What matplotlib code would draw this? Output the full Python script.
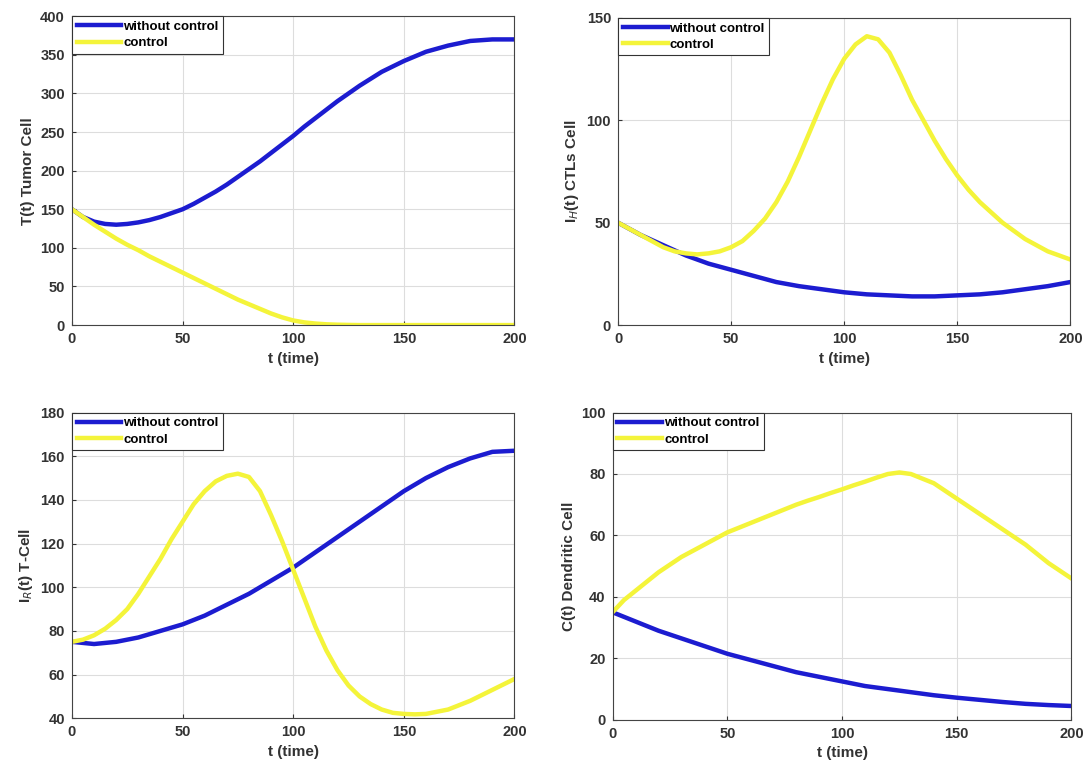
import matplotlib
matplotlib.use("Agg")
import matplotlib.pyplot as plt

plt.rcParams["font.family"] = ["Liberation Sans", "DejaVu Sans"]

t10 = list(range(0, 201, 10))
t5 = list(range(0, 201, 5))

# T(t) tumor cells (read every 5 time units)
tumor_no = [150, 140, 134, 131, 130, 131, 133, 136, 140, 145, 150, 157, 165, 173, 182, 192, 202, 212,
            223, 234, 245, 257, 268, 279, 290, 300, 310, 319, 328, 335, 342, 348, 354, 358, 362, 365,
            368, 369, 370, 370, 370]
tumor_ctl = [150, 140, 130, 121, 112, 104, 97, 89, 82, 75, 68, 61, 54, 47, 40, 33, 27, 21, 15, 10, 6,
             3.5, 2, 1, 0.5, 0.2, 0, 0, 0, 0, 0, 0, 0, 0, 0, 0, 0, 0, 0, 0, 0]

# I_H(t) CTLs
ctl_no = [50, 44, 39, 34, 30, 27, 24, 21, 19, 17.5, 16, 15, 14.5, 14, 14, 14.5, 15, 16, 17.5, 19, 21]
ctl_ctl = [50, 47, 44, 41, 38, 36, 35, 34.5, 35, 36, 38, 41, 46, 52, 60, 70, 82, 95, 108, 120, 130,
           137, 141, 139.5, 133, 122, 110, 100, 90, 81, 73, 66, 60, 55, 50, 46, 42, 39, 36, 34, 32]

# I_R(t) T-cells
tc_no = [75, 74, 75, 77, 80, 83, 87, 92, 97, 103, 109, 116, 123, 130, 137, 144, 150, 155, 159, 162, 162.5]
tc_ctl = [75, 76, 78, 81, 85, 90, 97, 105, 113, 122, 130, 138, 144, 148.5, 151, 152, 150.5, 144, 133,
          121, 108, 95, 82, 71, 62, 55, 50, 46.5, 44, 42.5, 42, 41.8, 42, 43, 44, 46, 48, 50.5, 53, 55.5, 58]

# C(t) dendritic cells
dc_no = [35, 32, 29, 26.5, 24, 21.5, 19.5, 17.5, 15.5, 14, 12.5, 11, 10, 9, 8, 7.2, 6.5, 5.8, 5.2, 4.8, 4.5]
dc_ctl = [35, 39, 42, 45, 48, 50.5, 53, 55, 57, 59, 61, 62.5, 64, 65.5, 67, 68.5, 70, 71.3, 72.5, 73.8,
          75, 76.3, 77.5, 78.8, 80, 80.5, 80, 78.5, 77, 74.5, 72, 69.5, 67, 64.5, 62, 59.5, 57, 54, 51,
          48.5, 46]

panels = [
    ([0.066, 0.580, 0.406, 0.399], t5, tumor_no, t5, tumor_ctl, (0, 400), range(0, 401, 50), "T(t) Tumor Cell"),
    ([0.567, 0.580, 0.415, 0.397], t10, ctl_no, t5, ctl_ctl, (0, 150), range(0, 151, 50), r"I$_H$(t) CTLs Cell"),
    ([0.066, 0.072, 0.406, 0.395], t10, tc_no, t5, tc_ctl, (40, 180), range(40, 181, 20), r"I$_R$(t) T-Cell"),
    ([0.562, 0.070, 0.421, 0.397], t10, dc_no, t5, dc_ctl, (0, 100), range(0, 101, 20), "C(t) Dendritic Cell"),
]

blue = "#1c1cd0"
yellow = "#f4f43a"
grey = "#333333"

fig = plt.figure(figsize=(10.9, 7.74), dpi=100)
for rect, x1, y1, x2, y2, ylim, yt, ylab in panels:
    ax = fig.add_axes(rect)
    ax.plot(x1, y1, color=blue, lw=3.2, label="without control", solid_joinstyle="round")
    ax.plot(x2, y2, color=yellow, lw=3.2, label="control", solid_joinstyle="round")
    ax.set_xlim(0, 200)
    ax.set_ylim(*ylim)
    ax.set_xticks(range(0, 201, 50))
    ax.set_yticks(list(yt))
    ax.grid(True, color="#dddddd", lw=0.8)
    ax.tick_params(direction="in", labelsize=10.5, colors=grey, length=3, pad=5)
    for lab in ax.get_xticklabels() + ax.get_yticklabels():
        lab.set_fontweight("bold")
    for sp in ax.spines.values():
        sp.set_color("#444444")
        sp.set_linewidth(0.8)
    ax.set_xlabel("t (time)", fontsize=11, fontweight="bold", color=grey)
    ax.set_ylabel(ylab, fontsize=11, fontweight="bold", color=grey)
    leg = ax.legend(loc="upper left", fancybox=False, framealpha=1,
                    edgecolor="#333333", borderaxespad=0, handlelength=3.4,
                    handletextpad=0.15, borderpad=0.35, labelspacing=0.3,
                    prop={"weight": "bold", "size": 9.5})
    leg.get_frame().set_linewidth(0.8)

fig.savefig("out.png", dpi=100)
